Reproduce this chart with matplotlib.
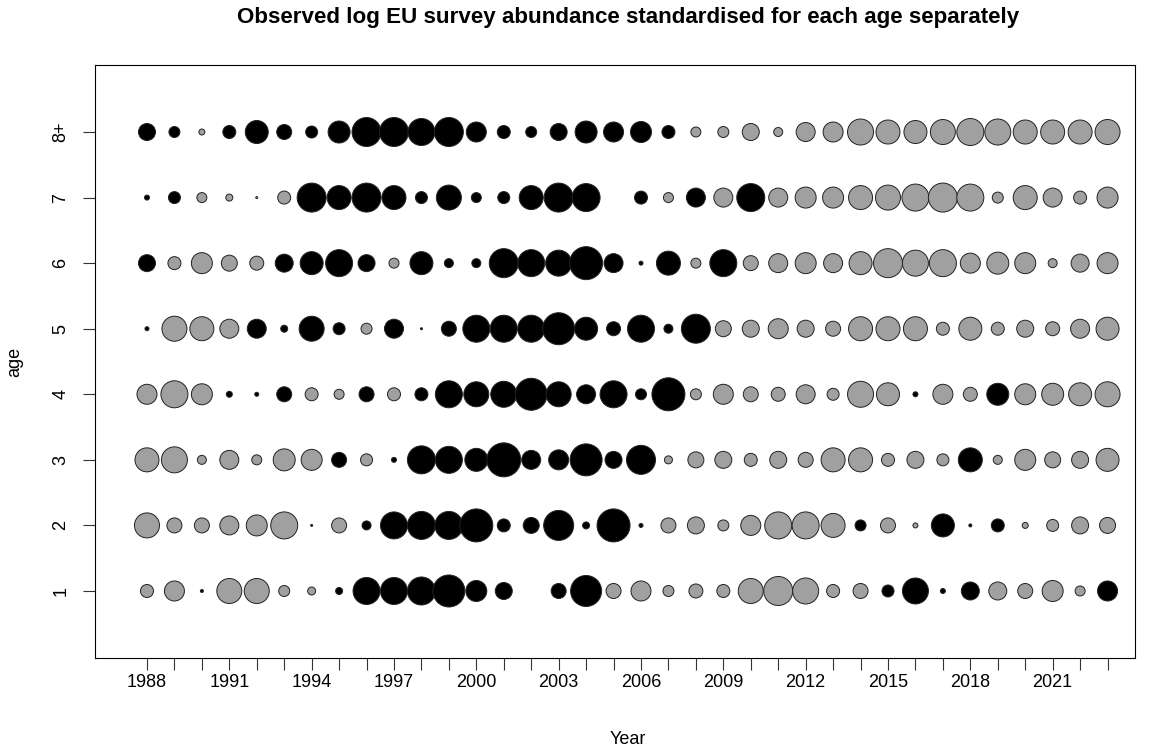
import numpy as np
import matplotlib
matplotlib.use("Agg")
import matplotlib.pyplot as plt

plt.rcParams['font.family'] = ['Liberation Sans', 'DejaVu Sans']

years = np.arange(1988, 2024)
ages = [1, 2, 3, 4, 5, 6, 7, 8]
age_labels = ["1", "2", "3", "4", "5", "6", "7", "8+"]
nan = np.nan

# standardised log abundance, one list per age (1988..2023)
age1 = [-1.3, -2.0, 0.3, -2.5, -2.5, -1.1, -0.8, 0.7, 2.7, 2.7, 2.8, 3.2, 2.1, 1.7, nan, 1.5, 3.1, -1.5,
        -2.0, -1.1, -1.4, -1.3, -2.5, -2.9, -2.6, -1.3, -1.5, 1.2, 2.6, 0.5, 1.8, -1.8, -1.5, -2.1, -1.0, 2.0]
age2 = [-2.5, -1.5, -1.5, -1.9, -2.1, -2.7, 0.2, -1.5, 0.9, 2.7, 2.8, 2.8, 3.3, 1.3, 1.6, 3.0, 0.7, 3.3,
        0.4, -1.5, -1.7, -1.1, -2.0, -2.7, -2.7, -2.4, 1.1, -1.5, -0.5, 2.3, 0.3, 1.3, -0.6, -1.2, -1.7, -1.6]
age3 = [-2.4, -2.6, -0.9, -1.9, -1.0, -2.2, -2.1, 1.5, -1.2, 0.5, 2.8, 2.7, 2.3, 3.4, 1.9, 2.0, 3.2, 1.7,
        2.9, -0.8, -1.6, -1.7, -1.3, -1.7, -1.5, -2.4, -2.4, -1.3, -1.7, -1.2, 2.4, -0.9, -2.1, -1.6, -1.7, -2.3]
age4 = [-2.0, -2.7, -2.1, 0.6, 0.4, 1.5, -1.3, -1.0, 1.5, -1.3, 1.3, 2.7, 2.5, 2.6, 3.2, 2.5, 1.9, 2.7,
        1.1, 3.3, -1.1, -2.0, -1.5, -1.4, -1.9, -1.2, -2.6, -2.3, 0.5, -2.0, -1.4, 2.2, -2.1, -2.2, -2.3, -2.5]
age5 = [0.4, -2.5, -2.4, -1.9, 1.9, 0.7, 2.5, 1.2, -1.1, 1.9, 0.2, 1.5, 2.7, 2.7, 2.7, 3.2, 2.3, 1.4,
        2.7, 0.9, 2.9, -1.6, -1.7, -2.0, -1.7, -1.5, -2.4, -2.4, -2.4, -1.3, -2.3, -1.3, -1.7, -1.4, -1.9, -2.3]
age6 = [1.7, -1.3, -2.1, -1.6, -1.4, 1.8, 2.3, 2.7, 1.7, -1.0, 2.3, 0.9, 0.9, 2.9, 2.7, 2.6, 3.3, 1.9,
        0.4, 2.4, -1.0, 2.7, -1.5, -1.9, -2.1, -1.9, -2.3, -2.9, -2.6, -2.7, -2.0, -2.2, -2.1, -0.9, -1.8, -2.1]
age7 = [0.5, 1.2, -1.0, -0.7, -0.2, -1.3, 2.9, 2.4, 2.9, 2.4, 1.2, 2.5, 1.0, 1.2, 2.4, 2.9, 2.8, nan,
        1.3, -1.0, 1.9, -1.9, 2.8, -1.9, -2.1, -2.1, -2.4, -2.5, -2.7, -2.9, -2.7, -1.1, -2.4, -1.9, -1.3, -2.1]
age8 = [1.7, 1.1, -0.6, 1.3, 2.3, 1.5, 1.2, 2.2, 2.9, 2.9, 2.7, 2.9, 2.0, 1.3, 1.1, 1.7, 2.2, 2.0,
        2.1, 1.3, -1.0, -1.1, -1.7, -0.9, -1.9, -2.0, -2.6, -2.4, -2.3, -2.5, -2.7, -2.6, -2.4, -2.4, -2.4, -2.5]

vals = np.array([age1, age2, age3, age4, age5, age6, age7, age8])

fig = plt.figure(figsize=(11.56, 7.51), dpi=100)
ax = fig.add_axes([95/1156, 1 - 658/751, (1135 - 95)/1156, (658 - 65)/751])

X, Y = np.meshgrid(years, ages)
x = X.ravel()
y = Y.ravel()
v = vals.ravel()
ok = ~np.isnan(v)
x, y, v = x[ok], y[ok], v[ok]
cols = np.where(v > 0, "black", "#A0A0A0")
# diameter in px = 10*|v|, px -> pt at 100 dpi
size = (np.abs(v) * 10 * 0.72) ** 2
ax.scatter(x, y, s=size, c=cols, edgecolors="#222222", linewidths=0.7, zorder=3)

ax.set_xlim(1986.106, 2024.0)
ax.set_ylim(-0.022, 9.022)
ax.set_xticks(years)
ax.set_xticklabels([str(yr) if (yr - 1988) % 3 == 0 and yr < 2023 else "" for yr in years])
ax.set_yticks(ages)
ax.set_yticklabels(age_labels, rotation=90, va="center")
ax.tick_params(axis="both", length=8.6, width=0.8, labelsize=13, color="#333333")
ax.tick_params(axis="x", pad=3)
ax.tick_params(axis="y", pad=10)
for sp in ax.spines.values():
    sp.set_linewidth(0.8)

fig.text(628/1156, 1 - 18/751, "Observed log EU survey abundance standardised for each age separately",
         ha="center", va="center", fontsize=16.1, fontweight="bold")
fig.text(628/1156, 1 - 740/751, "Year", ha="center", va="center", fontsize=13)
fig.text(15/1156, 1 - 362/751, "age", ha="center", va="center", rotation=90, fontsize=13)

fig.savefig("out.png", dpi=100)
